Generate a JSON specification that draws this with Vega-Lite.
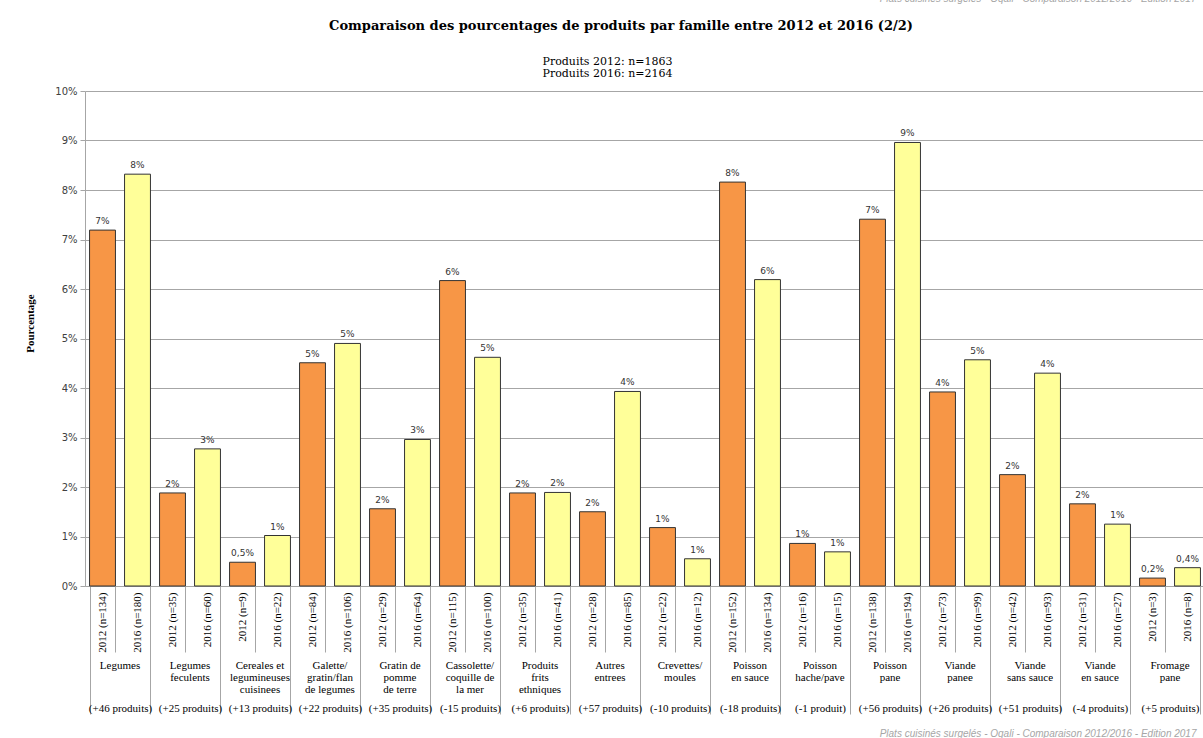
{
  "$schema": "https://vega.github.io/schema/vega-lite/v6.json",
  "autosize": {"type": "none"},
  "padding": {"left": 85, "top": 91, "right": 0, "bottom": 152},
  "width": 1120,
  "height": 495,
  "background": "white",
  "config": {"view": {"stroke": null}},
  "title": {
    "text": "Comparaison des pourcentages de produits par famille entre 2012 et 2016 (2/2)",
    "anchor": "middle",
    "frame": "group",
    "dx": -24,
    "offset": -40,
    "font": "DejaVu Serif",
    "fontSize": 13,
    "fontWeight": "bold",
    "color": "#000000"
  },
  "data": {
    "values": [
      {"k": "g01|2012 (n=134)|Legumes|(+46 produits)", "year": "2012", "pct": 7.19, "lab": "7%"},
      {"k": "g01|2016 (n=180)|Legumes|(+46 produits)", "year": "2016", "pct": 8.32, "lab": "8%"},
      {"k": "g02|2012 (n=35)|Legumes~feculents|(+25 produits)", "year": "2012", "pct": 1.88, "lab": "2%"},
      {"k": "g02|2016 (n=60)|Legumes~feculents|(+25 produits)", "year": "2016", "pct": 2.77, "lab": "3%"},
      {"k": "g03|2012 (n=9)|Cereales et~legumineuses~cuisinees|(+13 produits)", "year": "2012", "pct": 0.48, "lab": "0,5%"},
      {"k": "g03|2016 (n=22)|Cereales et~legumineuses~cuisinees|(+13 produits)", "year": "2016", "pct": 1.02, "lab": "1%"},
      {"k": "g04|2012 (n=84)|Galette/~gratin/flan~de legumes|(+22 produits)", "year": "2012", "pct": 4.51, "lab": "5%"},
      {"k": "g04|2016 (n=106)|Galette/~gratin/flan~de legumes|(+22 produits)", "year": "2016", "pct": 4.90, "lab": "5%"},
      {"k": "g05|2012 (n=29)|Gratin de~pomme~de terre|(+35 produits)", "year": "2012", "pct": 1.56, "lab": "2%"},
      {"k": "g05|2016 (n=64)|Gratin de~pomme~de terre|(+35 produits)", "year": "2016", "pct": 2.96, "lab": "3%"},
      {"k": "g06|2012 (n=115)|Cassolette/~coquille de~la mer|(-15 produits)", "year": "2012", "pct": 6.17, "lab": "6%"},
      {"k": "g06|2016 (n=100)|Cassolette/~coquille de~la mer|(-15 produits)", "year": "2016", "pct": 4.62, "lab": "5%"},
      {"k": "g07|2012 (n=35)|Produits~frits~ethniques|(+6 produits)", "year": "2012", "pct": 1.88, "lab": "2%"},
      {"k": "g07|2016 (n=41)|Produits~frits~ethniques|(+6 produits)", "year": "2016", "pct": 1.89, "lab": "2%"},
      {"k": "g08|2012 (n=28)|Autres~entrees|(+57 produits)", "year": "2012", "pct": 1.50, "lab": "2%"},
      {"k": "g08|2016 (n=85)|Autres~entrees|(+57 produits)", "year": "2016", "pct": 3.93, "lab": "4%"},
      {"k": "g09|2012 (n=22)|Crevettes/~moules|(-10 produits)", "year": "2012", "pct": 1.18, "lab": "1%"},
      {"k": "g09|2016 (n=12)|Crevettes/~moules|(-10 produits)", "year": "2016", "pct": 0.55, "lab": "1%"},
      {"k": "g10|2012 (n=152)|Poisson~en sauce|(-18 produits)", "year": "2012", "pct": 8.16, "lab": "8%"},
      {"k": "g10|2016 (n=134)|Poisson~en sauce|(-18 produits)", "year": "2016", "pct": 6.19, "lab": "6%"},
      {"k": "g11|2012 (n=16)|Poisson~hache/pave|(-1 produit)", "year": "2012", "pct": 0.86, "lab": "1%"},
      {"k": "g11|2016 (n=15)|Poisson~hache/pave|(-1 produit)", "year": "2016", "pct": 0.69, "lab": "1%"},
      {"k": "g12|2012 (n=138)|Poisson~pane|(+56 produits)", "year": "2012", "pct": 7.41, "lab": "7%"},
      {"k": "g12|2016 (n=194)|Poisson~pane|(+56 produits)", "year": "2016", "pct": 8.96, "lab": "9%"},
      {"k": "g13|2012 (n=73)|Viande~panee|(+26 produits)", "year": "2012", "pct": 3.92, "lab": "4%"},
      {"k": "g13|2016 (n=99)|Viande~panee|(+26 produits)", "year": "2016", "pct": 4.57, "lab": "5%"},
      {"k": "g14|2012 (n=42)|Viande~sans sauce|(+51 produits)", "year": "2012", "pct": 2.25, "lab": "2%"},
      {"k": "g14|2016 (n=93)|Viande~sans sauce|(+51 produits)", "year": "2016", "pct": 4.30, "lab": "4%"},
      {"k": "g15|2012 (n=31)|Viande~en sauce|(-4 produits)", "year": "2012", "pct": 1.66, "lab": "2%"},
      {"k": "g15|2016 (n=27)|Viande~en sauce|(-4 produits)", "year": "2016", "pct": 1.25, "lab": "1%"},
      {"k": "g16|2012 (n=3)|Fromage~pane|(+5 produits)", "year": "2012", "pct": 0.16, "lab": "0,2%"},
      {"k": "g16|2016 (n=8)|Fromage~pane|(+5 produits)", "year": "2016", "pct": 0.37, "lab": "0,4%"}
    ]
  },
  "encoding": {
    "y": {
      "field": "pct",
      "type": "quantitative",
      "scale": {"domain": [0, 10], "nice": false, "zero": true},
      "axis": {
        "title": "Pourcentage",
        "titleFont": "Liberation Serif",
        "titleFontSize": 11,
        "titleFontWeight": "bold",
        "titleColor": "#000000",
        "titleX": -50,
        "titleY": 232,
        "values": [0, 1, 2, 3, 4, 5, 6, 7, 8, 9, 10],
        "labelExpr": "datum.value + '%'",
        "labelFont": "DejaVu Sans",
        "labelFontSize": 10,
        "labelColor": "#404040",
        "labelPadding": 3,
        "grid": true,
        "gridColor": "#a6a6a6",
        "domainColor": "#a6a6a6",
        "tickColor": "#a6a6a6",
        "tickSize": 5
      }
    }
  },
  "layer": [
    {
      "transform": [{"filter": "datum.year == '2012'"}],
      "mark": {"type": "bar", "fill": "#F79646", "stroke": "#333333", "strokeWidth": 1},
      "encoding": {
        "x": {
          "field": "k",
          "type": "nominal",
          "sort": "ascending",
          "scale": {"paddingInner": 0.26, "paddingOuter": 0.13},
          "axis": {
            "orient": "bottom",
            "title": ["Produits 2012: n=1863", "Produits 2016: n=2164"],
            "titleX": 522,
            "titleY": -531,
            "titleAlign": "center",
            "titleAnchor": "middle",
            "titleBaseline": "top",
            "titleLineHeight": 12,
            "titleFont": "DejaVu Serif",
            "titleFontSize": 11,
            "titleFontWeight": "normal",
            "titleColor": "#000000",
            "labelExpr": "split(datum.value, '|')[1]",
            "labelAngle": 270,
            "labelFont": "Liberation Serif",
            "labelFontSize": 11,
            "labelColor": "#000000",
            "labelPadding": 6,
            "ticks": false,
            "domain": true,
            "domainColor": "#a6a6a6",
            "grid": false
          }
        }
      }
    },
    {
      "transform": [{"filter": "datum.year == '2016'"}],
      "mark": {"type": "bar", "fill": "#FFFF99", "stroke": "#333333", "strokeWidth": 1},
      "encoding": {
        "x": {
          "field": "k",
          "type": "nominal",
          "sort": "ascending",
          "axis": {
            "orient": "bottom",
            "title": null,
            "labels": false,
            "domain": false,
            "grid": false,
            "ticks": true,
            "tickBand": "extent",
            "tickColor": "#a6a6a6",
            "tickSize": 66
          }
        }
      }
    },
    {
      "transform": [{"filter": "datum.year == '2012'"}],
      "mark": {"type": "text", "font": "DejaVu Sans", "fontSize": 9, "color": "#333333", "baseline": "bottom", "dy": -4},
      "encoding": {
        "text": {"field": "lab"},
        "x": {
          "field": "k",
          "type": "nominal",
          "sort": "ascending",
          "axis": {
            "orient": "bottom",
            "labelExpr": "isString(datum.value) && indexof(datum.value, '|2016') > 0 ? split(split(datum.value, '|')[2], '~') : ''",
            "labelOffset": -17.5,
            "labelAngle": 0,
            "labelAlign": "center",
            "labelBaseline": "top",
            "labelPadding": 73,
            "labelLineHeight": 12,
            "labelFont": "Liberation Serif",
            "labelFontSize": 11,
            "labelColor": "#000000",
            "ticks": false,
            "domain": false,
            "grid": false,
            "title": "Plats cuisinés surgelés - Oqali - Comparaison 2012/2016 - Edition 2017",
            "titleX": 1111,
            "titleY": -585,
            "titleAlign": "right",
            "titleBaseline": "alphabetic",
            "titleFont": "Liberation Sans",
            "titleFontStyle": "italic",
            "titleFontWeight": "normal",
            "titleFontSize": 10,
            "titleColor": "#a6a6a6"
          }
        }
      }
    },
    {
      "transform": [{"filter": "datum.year == '2016'"}],
      "mark": {"type": "text", "font": "DejaVu Sans", "fontSize": 9, "color": "#333333", "baseline": "bottom", "dy": -4},
      "encoding": {
        "text": {"field": "lab"},
        "x": {
          "field": "k",
          "type": "nominal",
          "sort": "ascending",
          "axis": {
            "orient": "bottom",
            "labelExpr": "isString(datum.value) && indexof(datum.value, '|2016') > 0 ? split(datum.value, '|')[3] : ''",
            "labelOffset": -17.5,
            "labelAngle": 0,
            "labelAlign": "center",
            "labelBaseline": "top",
            "labelPadding": -12,
            "labelFont": "Liberation Serif",
            "labelFontSize": 11,
            "labelColor": "#000000",
            "ticks": true,
            "tickBand": "extent",
            "tickSize": 128,
            "tickColor": "#a6a6a6",
            "tickOpacity": {"condition": {"test": "!isString(datum.value) || indexof(datum.value, '|2016') > 0", "value": 1}, "value": 0},
            "domain": false,
            "grid": false,
            "title": "Plats cuisinés surgelés - Oqali - Comparaison 2012/2016 - Edition 2017",
            "titleX": 1111,
            "titleY": 147,
            "titleAlign": "right",
            "titleBaseline": "middle",
            "titleFont": "Liberation Sans",
            "titleFontStyle": "italic",
            "titleFontWeight": "normal",
            "titleFontSize": 10,
            "titleColor": "#a6a6a6"
          }
        }
      }
    }
  ],
  "resolve": {"axis": {"x": "independent"}}
}
